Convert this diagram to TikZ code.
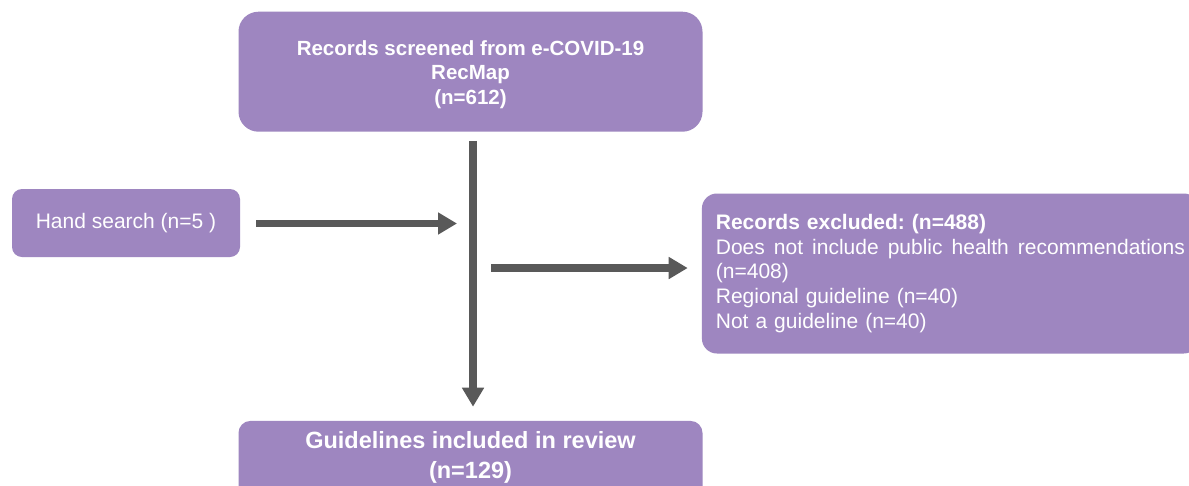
\documentclass[tikz,border=0pt]{standalone}
\usepackage{fontspec}
\setmainfont{Liberation Sans}
\usetikzlibrary{arrows.meta}
\definecolor{boxpurple}{RGB}{158,134,192}
\definecolor{arrowgrey}{RGB}{89,89,89}
\tikzset{
  box/.style={fill=boxpurple, text=white, inner sep=0pt},
  arr/.style={draw=arrowgrey, line width=7.5pt, -{Triangle[length=19pt,width=21pt]}},
}
\frenchspacing
\begin{document}
\begin{tikzpicture}[x=1pt,y=-1pt]
\clip (0,0) rectangle (1189,485);
\fill[white] (0,0) rectangle (1189,485);

\node[box, minimum width=464pt, minimum height=120pt, rounded corners=20pt,
      font=\bfseries\fontsize{20.5}{24.5}\selectfont, align=center]
  (top) at (470.5,71.7) {\rule{0pt}{20pt}Records screened from e-COVID-19\\RecMap\\(n=612)};

\node[box, minimum width=228pt, minimum height=68pt, rounded corners=10pt,
      font=\fontsize{21}{25}\selectfont]
  (hand) at (126,223) {Hand search (n=5 )};

\node[box, anchor=north west, text width=469pt, inner xsep=14pt, minimum height=160pt,
      rounded corners=15pt, font=\fontsize{21}{24.6}\selectfont, align=left]
  (excl) at (701.7,193.3) {\textbf{Records excluded: (n=488)}\\
  \makebox[469pt][l]{Does\hfill not\hfill include\hfill public\hfill health\hfill recommendations}\\
  (n=408)\\
  Regional guideline (n=40)\\
  Not a guideline (n=40)};

\node[box, anchor=north, minimum width=464pt, minimum height=80pt, inner ysep=11pt,
      rounded corners=12pt, font=\bfseries\fontsize{23.5}{30}\selectfont, align=center]
  (bottom) at (470.5,420.7) {Guidelines included in review\\(n=129)\\ \strut};

\coordinate (vx) at (473,0);
\coordinate (j1) at (457,223.5);
\coordinate (j2) at (491,268);

\draw[arr, shorten <=9pt, shorten >=14pt] (top.south -| vx) -- (bottom.north -| vx);
\draw[arr, shorten <=16pt] (hand.east |- j1) -- (j1);
\draw[arr, shorten >=14pt] (j2) -- (j2 -| excl.west);
\end{tikzpicture}
\end{document}
